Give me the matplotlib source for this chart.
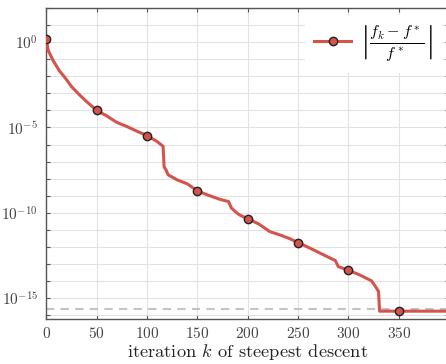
import numpy as np
import matplotlib
matplotlib.use("Agg")
import matplotlib.pyplot as plt
from matplotlib.ticker import FixedLocator, FuncFormatter

plt.rcParams['font.family'] = 'cmr10'
plt.rcParams['mathtext.fontset'] = 'cm'
plt.rcParams['axes.formatter.use_mathtext'] = True

# iteration number k and log10 of the relative error |f_k - f*| / f*
iters = [0, 2, 7, 13, 19, 25, 33, 40, 50, 60, 70, 80, 90, 100, 110, 116, 117,
         119, 121, 130, 140, 150, 160, 172, 181, 184, 190, 192, 200, 211, 222,
         232, 242, 250, 262, 272, 282, 287, 290, 300, 311, 323, 327, 330, 331,
         350, 400]
log_err = [0.18, -0.5, -1.1, -1.68, -2.11, -2.6, -3.09, -3.48, -4.0, -4.32,
           -4.7, -4.94, -5.22, -5.47, -5.82, -6.1, -7.3, -7.5, -7.77, -8.07,
           -8.3, -8.71, -8.95, -9.2, -9.34, -9.73, -10.04, -10.12, -10.35,
           -10.65, -11.1, -11.29, -11.52, -11.74, -12.07, -12.36, -12.65,
           -12.79, -13.15, -13.36, -13.63, -13.98, -14.32, -14.61, -15.76,
           -15.76, -15.76]
marker_iters = [0, 50, 100, 150, 200, 250, 300, 350]
machine_eps = 2.22e-16

err = 10.0 ** np.array(log_err)
mark_idx = [iters.index(m) for m in marker_iters]

fig = plt.figure(figsize=(4.46, 3.64), dpi=100)
ax = fig.add_axes([0.1038, 0.1245, 0.903, 0.8535])

red = '#d4534b'
ax.axhline(machine_eps, color='#c4c4c4', lw=1.5, dashes=(4, 3), zorder=1)
ax.semilogy(iters, err, color=red, lw=2.2, marker='o', markevery=mark_idx,
            markersize=6, markerfacecolor=red, markeredgecolor='#222222',
            markeredgewidth=1.0, zorder=3,
            label=r'$\left|\frac{f_k - f^*}{f^*}\right|$')

ax.set_xlim(0, 400)
ax.set_ylim(10 ** -16.2, 1e2)
ax.xaxis.set_major_locator(FixedLocator([0, 50, 100, 150, 200, 250, 300, 350]))
ax.yaxis.set_major_locator(FixedLocator([10.0 ** p for p in range(-16, 3)]))
ax.yaxis.set_minor_locator(FixedLocator([]))


def ylab(v, pos):
    p = int(round(np.log10(v)))
    if p % 5 == 0:
        return r'$10^{%d}$' % p
    return ''


ax.yaxis.set_major_formatter(FuncFormatter(ylab))
ax.xaxis.set_major_formatter(FuncFormatter(lambda v, pos: r'$%d$' % v))

ax.grid(True, color='#e2e2e2', lw=0.8)
ax.set_axisbelow(True)
for s in ax.spines.values():
    s.set_color('#555555')
    s.set_linewidth(1.0)
ax.tick_params(direction='in', length=3, width=0.8, color='#555555',
               top=True, right=True, labelsize=11, labelcolor='#444444')
ax.tick_params(axis='x', pad=5)
ax.tick_params(axis='y', pad=6)

xlab = ax.set_xlabel(r'iteration $k$ of steepest descent', fontsize=13.5,
                     color='#222222')

leg = ax.legend(loc='upper right', fontsize=16.5, frameon=True, framealpha=1,
                edgecolor='none', fancybox=False, handlelength=1.6,
                handletextpad=0.4, borderaxespad=0.3)

# put the x label just under the tick labels; shrink it if it would be cut off
fig.canvas.draw()
rend = fig.canvas.get_renderer()
tick_bottom = min(t.get_window_extent(rend).y0 for t in ax.get_xticklabels())
ax_box = ax.get_window_extent(rend)
ax.xaxis.set_label_coords(0.5, (tick_bottom - 1 - ax_box.y0) / ax_box.height)
size = 13.5
while size > 10:
    fig.canvas.draw()
    if xlab.get_window_extent(rend).y0 >= 0.5:
        break
    size -= 0.25
    xlab.set_fontsize(size)

fig.savefig('out.png', dpi=100)
